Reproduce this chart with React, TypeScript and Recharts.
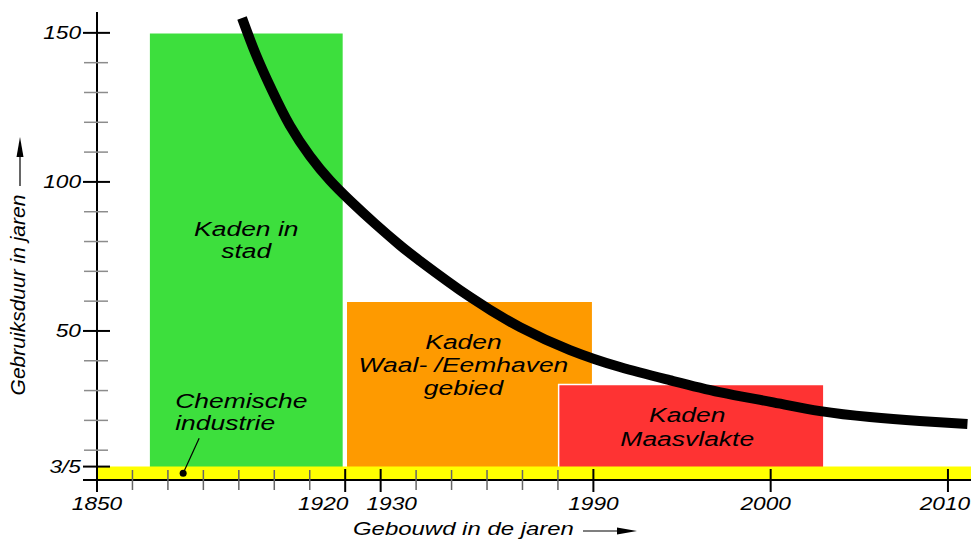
import React from "react";
import { LineChart, Line, XAxis, YAxis, ReferenceArea, ReferenceDot } from "recharts";

// jaren op de as (schematisch: 10 jaar per streep tot 1990, daarna 2 jaar)
const tickYears = [1850, 1860, 1870, 1880, 1890, 1900, 1910, 1920, 1930, 1940, 1950, 1960, 1970, 1980, 1990, 2000, 2010];
const labelledYears = [1850, 1920, 1930, 1990, 2000, 2010];
const axisEndYear = 2011.3;

const yTicks = [0, 4.5, 10, 20, 30, 40, 50, 60, 70, 80, 90, 100, 110, 120, 130, 140, 150];
const yMajor = [0, 4.5, 50, 100, 150];
const yTickLabels: Record<string, string> = { "4.5": "3/5", "50": "50", "100": "100", "150": "150" };

// kadezones
const zoneNames = [["Kaden in", "stad"], ["Kaden", "Waal- /Eemhaven", "gebied"], ["Kaden", "Maasvlakte"]];
const zoneFrom = [1864.7, 1920.3, 1980.2];
const zoneTo = [1919.5, 1989.8, 2003];
const zoneLife = [150, 60, 32];

// chemische industrie (3 a 5 jaar)
const chemLines = ["Chemische", "industrie"];
const chemLife = 4.5;
const chemMarkerYear = 1874.3;
const chemMarkerLife = 2.3;

// gebruiksduur-curve
const curveYears = [1890.9, 1894.8, 1899.4, 1904.4, 1910.1, 1915.7, 1921.3, 1928.4, 1935.4, 1941.1, 1955.2, 1969.3, 1983.4, 1991.5, 1994.3, 1997.1, 2000.0, 2002.8, 2005.6, 2008.4, 2011.1];
const curveLife = [155.0, 142.8, 130.6, 118.9, 108.6, 100.5, 93.8, 86.0, 78.8, 73.5, 61.4, 51.3, 43.6, 37.9, 33.5, 29.5, 26.2, 23.1, 21.1, 19.8, 18.8];

const yearToPos = (y: number) => (y <= 1990 ? (y - 1850) / 10 : 14 + (y - 1990) / 2);

const curveData = curveYears.map((y, i) => ({ pos: yearToPos(y), life: curveLife[i] }));
const xTicks = tickYears.map(yearToPos);

const zoneStyle = [
  { fill: "#3ddf3d", dx: 0, dy: 203.5, lh: 22 },
  { fill: "#fe9a00", dx: -6, dy: 48, lh: 23 },
  { fill: "#fe3333", dx: -4, dy: 37, lh: 24 },
];
const labelDx: Record<number, number> = { 1920: -22, 1930: 11, 2000: -5, 2010: -3 };

const FONT = "'Liberation Sans', Arial, sans-serif";

function SText({ x, y, size = 18, anchor = "middle", children }: any) {
  return (
    <text
      transform={`translate(${x},${y}) scale(1.26,1)`}
      textAnchor={anchor}
      fontFamily={FONT}
      fontStyle="italic"
      fontSize={size}
      fill="#000"
    >
      {children}
    </text>
  );
}

function YTick({ x, y, payload }: any) {
  const v = payload.value;
  const major = yMajor.includes(v);
  const label = yTickLabels[String(v)];
  return (
    <g>
      <line
        x1={major ? x - 14 : x - 13}
        x2={major ? x + 13 : x + 11}
        y1={y}
        y2={y}
        stroke={major ? "#000" : "#8c8c8c"}
        strokeWidth={major ? 2 : 1.5}
      />
      {label && (
        <SText x={x - 16} y={y + 6.5} anchor="end">
          {label}
        </SText>
      )}
    </g>
  );
}

function XTick({ x, y, payload }: any) {
  const year = tickYears.find((yr) => Math.abs(yearToPos(yr) - payload.value) < 1e-6) ?? 0;
  const major = labelledYears.includes(year);
  return (
    <g>
      <line
        x1={x}
        x2={x}
        y1={major ? y - 11 : y - 10}
        y2={major ? y + 12 : y + 10}
        stroke={major ? "#000" : "#666"}
        strokeWidth={major ? 2 : 1.5}
      />
      {major && (
        <SText x={x + (labelDx[year] ?? 0)} y={y + 29.5}>
          {year}
        </SText>
      )}
    </g>
  );
}

function ZoneText({ viewBox, lines, style }: any) {
  const cx = viewBox.x + viewBox.width / 2 + style.dx;
  return (
    <g>
      {lines.map((t: string, i: number) => (
        <SText key={i} x={cx} y={viewBox.y + style.dy + i * style.lh} size={21}>
          {t}
        </SText>
      ))}
    </g>
  );
}

function ChemText({ viewBox }: any) {
  const cx = viewBox.x + viewBox.width / 2;
  const cy = viewBox.y + viewBox.height / 2;
  return (
    <g>
      <line x1={cx} y1={cy} x2={cx + 16} y2={cy - 35} stroke="#000" strokeWidth={1.2} />
      {chemLines.map((t, i) => (
        <SText key={i} x={cx - 8} y={cy - 65 + i * 22} size={21} anchor="start">
          {t}
        </SText>
      ))}
    </g>
  );
}

function YTitle() {
  return (
    <g>
      <text
        transform="translate(25,295) rotate(-90)"
        textAnchor="middle"
        fontFamily={FONT}
        fontStyle="italic"
        fontSize={21}
        fill="#000"
      >
        Gebruiksduur in jaren
      </text>
      <line x1={20} x2={20} y1={186} y2={152} stroke="#000" strokeWidth={1.2} />
      <path d="M20,137 L23.5,157 L16.5,157 Z" fill="#000" />
    </g>
  );
}

function XTitle() {
  return (
    <g>
      <SText x={353} y={535} size={19} anchor="start">
        Gebouwd in de jaren
      </SText>
      <line x1={583} x2={622} y1={531} y2={531} stroke="#000" strokeWidth={1.2} />
      <path d="M637,531 L617,527.5 L617,534.5 Z" fill="#000" />
    </g>
  );
}

export default function App() {
  return (
    <div style={{ position: "absolute", left: 0, top: 0, width: 976, height: 539, background: "#fff" }}>
      <LineChart width={976} height={539} data={curveData} margin={{ top: 12, right: 5, left: 0, bottom: 0 }}>
        <XAxis
          dataKey="pos"
          type="number"
          domain={[0, yearToPos(axisEndYear)]}
          ticks={xTicks}
          interval={0}
          height={59}
          tickSize={0}
          tickMargin={0}
          tick={<XTick />}
          axisLine={{ stroke: "#000", strokeWidth: 2 }}
          label={{ content: () => <XTitle /> }}
        />
        <YAxis
          type="number"
          domain={[0, 157]}
          ticks={yTicks}
          interval={0}
          width={97}
          tickSize={0}
          tickMargin={0}
          tick={<YTick />}
          axisLine={{ stroke: "#000", strokeWidth: 2 }}
          label={{ content: () => <YTitle /> }}
        />
        {zoneNames.map((lines, i) => (
          <ReferenceArea
            key={i}
            x1={yearToPos(zoneFrom[i])}
            x2={yearToPos(zoneTo[i])}
            y1={0}
            y2={zoneLife[i]}
            fill={zoneStyle[i].fill}
            fillOpacity={1}
            stroke="#fff"
            strokeWidth={1.5}
            label={(p: any) => <ZoneText viewBox={p.viewBox} lines={lines} style={zoneStyle[i]} />}
          />
        ))}
        <ReferenceArea
          x1={yearToPos(1850)}
          x2={yearToPos(axisEndYear)}
          y1={0}
          y2={chemLife}
          fill="#ffff00"
          fillOpacity={1}
          stroke="none"
        />
        <ReferenceDot
          x={yearToPos(chemMarkerYear)}
          y={chemMarkerLife}
          r={3.5}
          fill="#000"
          stroke="none"
          label={(p: any) => <ChemText viewBox={p.viewBox} />}
        />
        <Line
          type="natural"
          dataKey="life"
          stroke="#000"
          strokeWidth={10}
          dot={false}
          activeDot={false}
          isAnimationActive={false}
        />
      </LineChart>
    </div>
  );
}
